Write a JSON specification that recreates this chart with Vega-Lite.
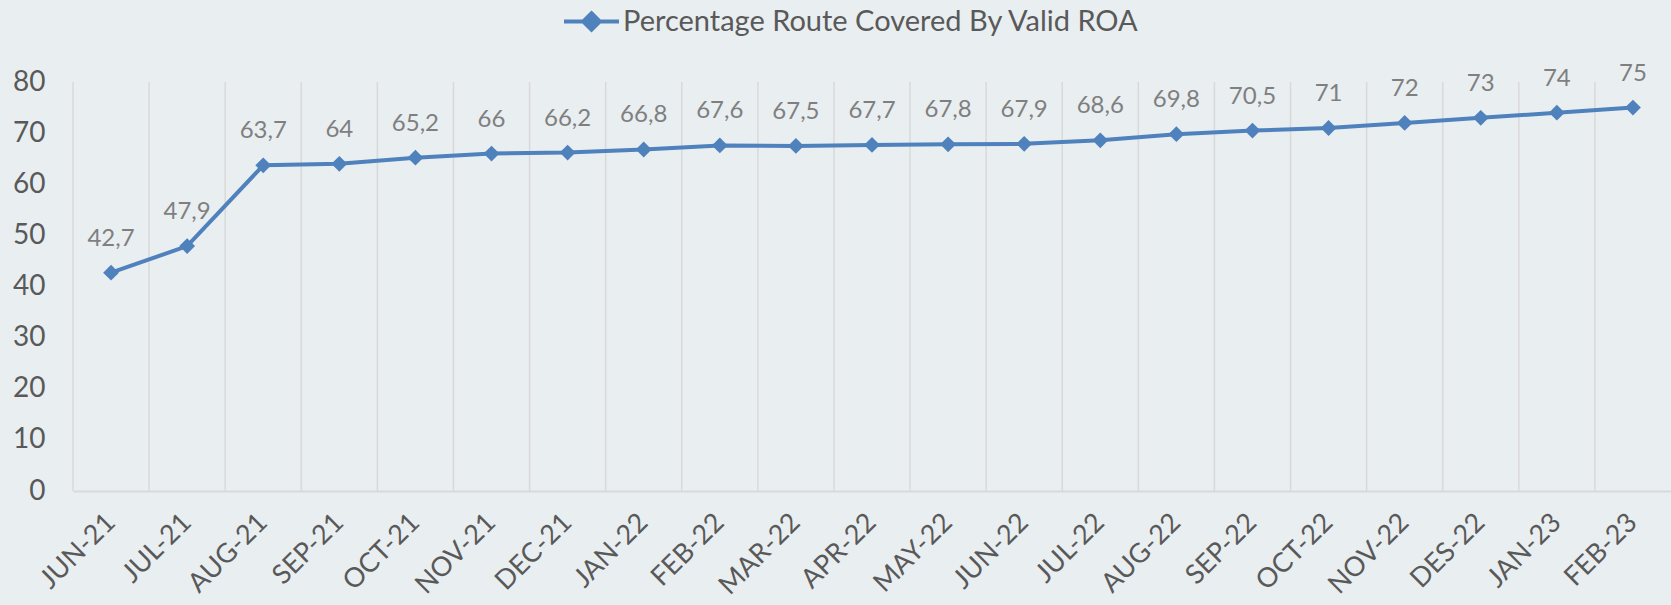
{
  "$schema": "https://vega.github.io/schema/vega-lite/v6.json",
  "width": 1598,
  "height": 409,
  "autosize": {"type": "none"},
  "padding": {"left": 73, "top": 82, "right": 0, "bottom": 114},
  "background": "#E9EEF1",
  "config": {
    "view": {"stroke": null},
    "font": "Lato",
    "locale": {"number": {"decimal": ",", "thousands": ".", "grouping": [3], "currency": ["", ""]}}
  },
  "data": {
    "values": [
      {"month": "JUN-21", "value": 42.7, "series": "Percentage Route Covered By Valid ROA"},
      {"month": "JUL-21", "value": 47.9, "series": "Percentage Route Covered By Valid ROA"},
      {"month": "AUG-21", "value": 63.7, "series": "Percentage Route Covered By Valid ROA"},
      {"month": "SEP-21", "value": 64, "series": "Percentage Route Covered By Valid ROA"},
      {"month": "OCT-21", "value": 65.2, "series": "Percentage Route Covered By Valid ROA"},
      {"month": "NOV-21", "value": 66, "series": "Percentage Route Covered By Valid ROA"},
      {"month": "DEC-21", "value": 66.2, "series": "Percentage Route Covered By Valid ROA"},
      {"month": "JAN-22", "value": 66.8, "series": "Percentage Route Covered By Valid ROA"},
      {"month": "FEB-22", "value": 67.6, "series": "Percentage Route Covered By Valid ROA"},
      {"month": "MAR-22", "value": 67.5, "series": "Percentage Route Covered By Valid ROA"},
      {"month": "APR-22", "value": 67.7, "series": "Percentage Route Covered By Valid ROA"},
      {"month": "MAY-22", "value": 67.8, "series": "Percentage Route Covered By Valid ROA"},
      {"month": "JUN-22", "value": 67.9, "series": "Percentage Route Covered By Valid ROA"},
      {"month": "JUL-22", "value": 68.6, "series": "Percentage Route Covered By Valid ROA"},
      {"month": "AUG-22", "value": 69.8, "series": "Percentage Route Covered By Valid ROA"},
      {"month": "SEP-22", "value": 70.5, "series": "Percentage Route Covered By Valid ROA"},
      {"month": "OCT-22", "value": 71, "series": "Percentage Route Covered By Valid ROA"},
      {"month": "NOV-22", "value": 72, "series": "Percentage Route Covered By Valid ROA"},
      {"month": "DES-22", "value": 73, "series": "Percentage Route Covered By Valid ROA"},
      {"month": "JAN-23", "value": 74, "series": "Percentage Route Covered By Valid ROA"},
      {"month": "FEB-23", "value": 75, "series": "Percentage Route Covered By Valid ROA"}
    ]
  },
  "layer": [
    {
      "mark": {"type": "rule", "color": "#D9D9D9", "strokeWidth": 1.5},
      "encoding": {
        "x": {"field": "month", "type": "nominal", "sort": null, "bandPosition": 0,
              "scale": {"type": "band", "paddingInner": 0, "paddingOuter": 0},
              "axis": {"title": null, "ticks": false, "labelAngle": -45, "labelAlign": "right", "labelBaseline": "middle",
                       "labelPadding": 27, "labelFontSize": 27, "labelColor": "#595959", "domainColor": "#D9D9D9", "domainWidth": 2,
                       "labelFont": "Lato"}},
        "y": {"datum": 0, "type": "quantitative"},
        "y2": {"datum": 80}
      }
    },
    {
      "mark": {"type": "line", "strokeWidth": 4, "point": {"shape": "diamond", "size": 250, "filled": true, "opacity": 1}},
      "encoding": {
        "x": {"field": "month", "type": "nominal", "sort": null, "bandPosition": 0.5},
        "y": {"field": "value", "type": "quantitative",
              "scale": {"domain": [0, 80]},
              "axis": {"title": null, "ticks": false, "domain": false, "grid": false, "values": [0,10,20,30,40,50,60,70,80],
                       "labelFontSize": 28, "labelColor": "#595959", "labelPadding": 28}},
        "color": {"field": "series", "type": "nominal",
                  "scale": {"range": ["#4F81BD"]},
                  "legend": {"title": null, "orient": "none", "legendX": 489, "legendY": -90, "labelLimit": 0,
                             "symbolType": "M-1,0H1M0,-0.3L0.3,0L0,0.3L-0.3,0Z", "symbolSize": 3025, "symbolStrokeWidth": 4,
                             "symbolFillColor": "#4F81BD", "symbolStrokeColor": "#4F81BD",
                             "labelFontSize": 29, "labelColor": "#595959", "labelOffset": 2, "padding": 0}}
      }
    },
    {
      "mark": {"type": "text", "dy": -34, "fontSize": 24, "color": "#7F7F7F", "baseline": "middle"},
      "encoding": {
        "x": {"field": "month", "type": "nominal", "sort": null, "bandPosition": 0.5},
        "y": {"field": "value", "type": "quantitative"},
        "text": {"field": "value", "type": "quantitative", "format": ".1~f"}
      }
    }
  ]
}
